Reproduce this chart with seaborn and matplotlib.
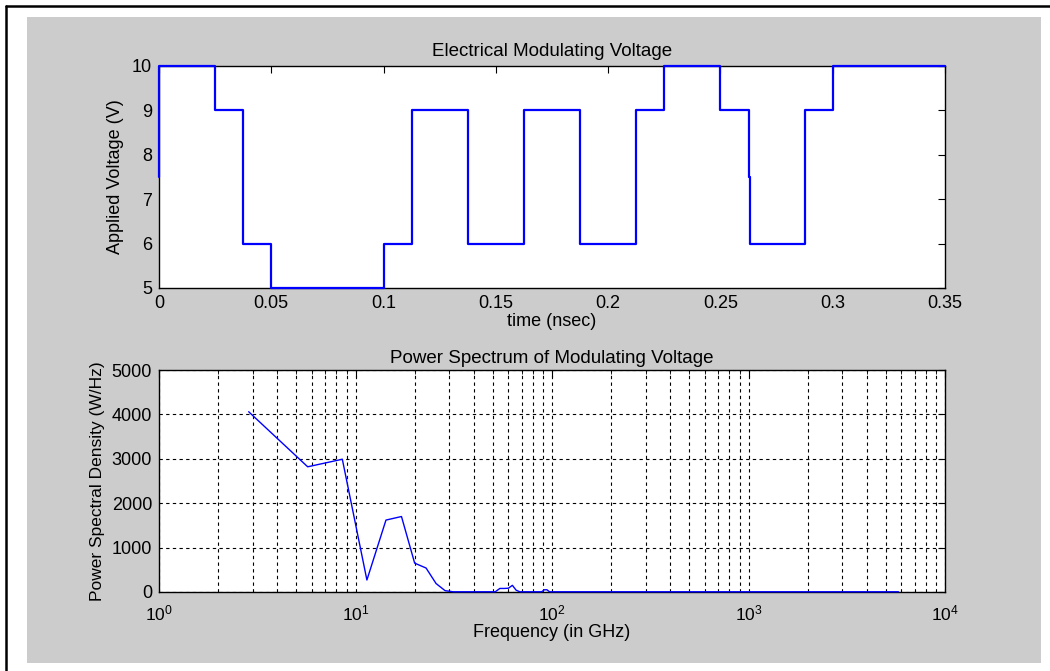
import numpy as np
import matplotlib
matplotlib.use("Agg")
import matplotlib.pyplot as plt
import seaborn as sns
from matplotlib.patches import Rectangle
from matplotlib.lines import Line2D
from matplotlib.ticker import FixedLocator, FixedFormatter, LogLocator

# Tensão aplicada (degraus) - bordas em ns e níveis em V
t_edges = [0.0, 0.025, 0.0375, 0.05, 0.1, 0.1125, 0.1375, 0.1625, 0.1875,
           0.2125, 0.225, 0.25, 0.2625, 0.2632, 0.2875, 0.3, 0.35]
v_levels = [10, 9, 6, 5, 6, 9, 6, 9, 6, 9, 10, 9, 7.5, 6, 9, 10]
v_start = 7.5

t_ticks = [0, 0.05, 0.1, 0.15, 0.2, 0.25, 0.3, 0.35]
t_labels = ["0", "0.05", "0.1", "0.15", "0.2", "0.25", "0.3", "0.35"]
v_ticks = [5, 6, 7, 8, 9, 10]

# Espectro de potência
freq_ghz = [2.86, 5.71, 8.57, 11.43, 14.29, 17.14, 20.0, 22.86, 25.71, 28.57,
            31.43, 40.0, 51.43, 54.29, 57.14, 60.0, 62.86, 65.71, 68.57, 80.0,
            88.57, 91.43, 94.29, 97.14, 200.0, 1000.0, 5800.0]
psd = [4060, 2820, 2990, 270, 1620, 1700, 650, 540, 190, 30,
       5, 5, 5, 80, 80, 85, 150, 40, 5, 5,
       5, 50, 50, 5, 5, 5, 5]
psd_ticks = [0, 1000, 2000, 3000, 4000, 5000]

# Montar os pontos da forma de onda em degraus
t_x = [t_edges[0]]
v_y = [v_start]
for i, lev in enumerate(v_levels):
    t_x += [t_edges[i], t_edges[i + 1]]
    v_y += [lev, lev]

sns.set_theme(style="white")
plt.rcParams['font.family'] = ['Liberation Sans', 'DejaVu Sans']
plt.rcParams['mathtext.fontset'] = 'custom'
plt.rcParams['mathtext.rm'] = 'Liberation Sans'
plt.rcParams['mathtext.it'] = 'Liberation Sans'
plt.rcParams['text.color'] = 'black'
plt.rcParams['axes.labelcolor'] = 'black'
plt.rcParams['xtick.color'] = 'black'
plt.rcParams['ytick.color'] = 'black'
fs = 13

fig = plt.figure(figsize=(10.5, 6.71), dpi=100, facecolor='white')

# Fundo cinzento e moldura
fig.patches.append(Rectangle((27 / 1050, 1 - 663 / 671), (1041 - 27) / 1050, (663 - 17) / 671,
                             transform=fig.transFigure, facecolor='#cccccc', edgecolor='none', zorder=-10))
fig.lines.append(Line2D([6 / 1050, 6 / 1050], [0, 1 - 6 / 671], transform=fig.transFigure, color='black', lw=1.8))
fig.lines.append(Line2D([6 / 1050, 1], [1 - 6 / 671, 1 - 6 / 671], transform=fig.transFigure, color='black', lw=1.8))

ax1 = fig.add_axes([159 / 1050, 1 - 288 / 671, (945 - 159) / 1050, 222 / 671])
ax2 = fig.add_axes([159 / 1050, 1 - 592 / 671, (945 - 159) / 1050, 222 / 671])

sns.lineplot(x=t_x, y=v_y, ax=ax1, estimator=None, sort=False, color='#0000ff', linewidth=1.6,
             zorder=5, clip_on=False)
ax1.set_xlim(0, 0.35)
ax1.set_ylim(5, 10)
ax1.xaxis.set_major_locator(FixedLocator(t_ticks))
ax1.xaxis.set_major_formatter(FixedFormatter(t_labels))
ax1.yaxis.set_major_locator(FixedLocator(v_ticks))
ax1.set_title('Electrical Modulating Voltage', fontsize=fs + 0.5, pad=7)
ax1.set_xlabel('time (nsec)', fontsize=fs, labelpad=1)
ax1.set_ylabel('Applied Voltage (V)', fontsize=fs, labelpad=6)

ax2.set_xscale('log')
sns.lineplot(x=freq_ghz, y=psd, ax=ax2, estimator=None, sort=False, color='#0000ff', linewidth=1.0,
             zorder=5, clip_on=False)
ax2.set_xlim(1, 1e4)
ax2.set_ylim(0, 5000)
ax2.xaxis.set_major_locator(LogLocator(base=10, numticks=10))
ax2.xaxis.set_minor_locator(LogLocator(base=10, subs=np.arange(2, 10), numticks=20))
ax2.yaxis.set_major_locator(FixedLocator(psd_ticks))
ax2.grid(True, which='both', axis='x', color='black', linestyle=(0, (3, 3)), linewidth=0.8)
ax2.grid(True, which='major', axis='y', color='black', linestyle=(0, (3, 3)), linewidth=0.8)
ax2.set_axisbelow(True)
ax2.set_title('Power Spectrum of Modulating Voltage', fontsize=fs + 0.5, pad=5)
ax2.set_xlabel('Frequency (in GHz)', fontsize=fs, labelpad=1)
ax2.set_ylabel('Power Spectral Density (W/Hz)', fontsize=fs - 0.5, labelpad=5)

for ax in (ax1, ax2):
    ax.set_facecolor('white')
    for sp in ax.spines.values():
        sp.set_color('black')
        sp.set_linewidth(1.0)
    ax.tick_params(which='major', direction='in', length=5, width=0.8, top=True, right=True,
                   labelsize=fs, colors='black', pad=5)
    ax.tick_params(which='minor', direction='in', length=3, width=0.6, top=True, right=True)

ax2.tick_params(axis='x', which='major', pad=8, labelsize=fs - 0.5)

plt.savefig('out.png', dpi=100, facecolor='white')
